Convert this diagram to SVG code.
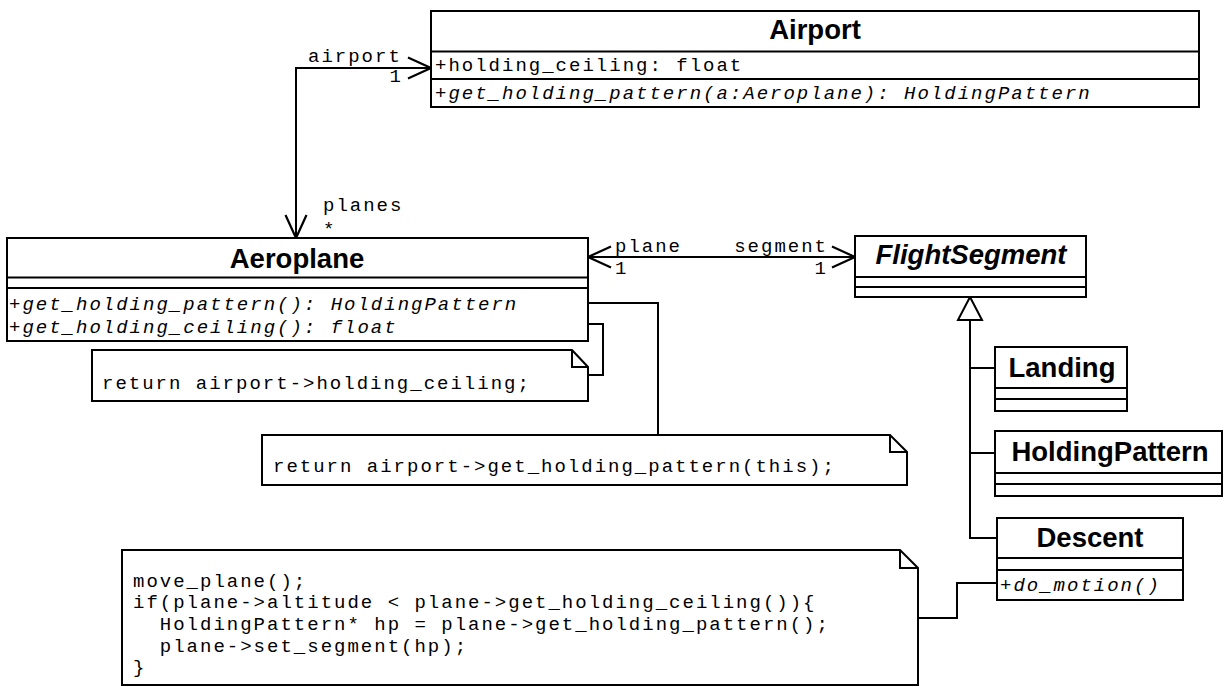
<svg xmlns="http://www.w3.org/2000/svg" width="1226" height="687" viewBox="0 0 1226 687">
<style>
.box{fill:#fff;stroke:#000;stroke-width:2}
.ln{fill:none;stroke:#000;stroke-width:2}
.title{font-family:"Liberation Sans",Arial,sans-serif;font-weight:bold;font-size:27.5px;text-anchor:middle;fill:#000}
.mono{font-family:"Liberation Mono","Courier New",monospace;font-size:19px;letter-spacing:2.0px;fill:#000}
.it{font-style:italic}
.end{text-anchor:end}
</style>
<defs>
<marker id="open" markerUnits="userSpaceOnUse" markerWidth="28" markerHeight="28" viewBox="0 0 28 28" refX="25" refY="12" orient="auto-start-reverse">
<path d="M2 1.5 L25 12 L2 22.5" fill="none" stroke="#000" stroke-width="2.2"/>
</marker>
</defs>
<rect width="1226" height="687" fill="#fff"/>

<g id="connectors">
<path class="ln" d="M431 68 H296 V238" marker-start="url(#open)" marker-end="url(#open)"/>
<path class="ln" d="M588 257 H855" marker-start="url(#open)" marker-end="url(#open)"/>
<path class="ln" d="M970 320 V538 H997 M970 368 H995 M970 453 H995"/>
<polygon points="970,297 958,320 982,320" fill="#fff" stroke="#000" stroke-width="2"/>
<path class="ln" d="M588 303 H658 V435"/>
<path class="ln" d="M588 324 H603 V375 H588"/>
<path class="ln" d="M918 618 H957 V583 H997"/>
<text class="mono" x="308" y="62">airport</text>
<text class="mono end" x="403" y="82">1</text>
<text class="mono" x="323" y="211">planes</text>
<text class="mono" x="323" y="235">*</text>
<text class="mono" x="615" y="252">plane</text>
<text class="mono" x="615" y="274">1</text>
<text class="mono end" x="828" y="252">segment</text>
<text class="mono end" x="828" y="274">1</text>
</g>

<g id="airport">
<rect class="box" x="431" y="11" width="768" height="96"/>
<path class="ln" d="M431 51.5 H1199 M431 79 H1199"/>
<text class="title" x="815" y="39">Airport</text>
<text class="mono" x="435" y="71">+holding_ceiling: float</text>
<text class="mono it" x="435" y="99">+get_holding_pattern(a:Aeroplane): HoldingPattern</text>
</g>

<g id="aeroplane">
<rect class="box" x="7" y="238" width="581" height="103"/>
<path class="ln" d="M7 277.5 H588 M7 288 H588"/>
<text class="title" x="297" y="268">Aeroplane</text>
<text class="mono it" x="9" y="310">+get_holding_pattern(): HoldingPattern</text>
<text class="mono it" x="9" y="333">+get_holding_ceiling(): float</text>
</g>

<g id="flightsegment">
<rect class="box" x="855" y="236" width="231" height="61"/>
<path class="ln" d="M855 277 H1086 M855 287 H1086"/>
<text class="title it" x="971" y="264" font-style="italic">FlightSegment</text>
</g>

<g id="landing">
<rect class="box" x="995" y="347" width="132" height="64"/>
<path class="ln" d="M995 388 H1127 M995 399 H1127"/>
<text class="title" x="1062" y="377">Landing</text>
</g>

<g id="holdingpattern">
<rect class="box" x="995" y="431" width="227" height="65"/>
<path class="ln" d="M995 473 H1222 M995 484 H1222"/>
<text class="title" x="1110" y="461">HoldingPattern</text>
</g>

<g id="descent">
<rect class="box" x="997" y="518" width="186" height="82"/>
<path class="ln" d="M997 558 H1183 M997 570 H1183"/>
<text class="title" x="1090" y="547">Descent</text>
<text class="mono it" x="1000" y="591">+do_motion()</text>
</g>

<g id="note-ceiling">
<path class="box" d="M92 350 H572 L588 367 V401 H92 Z"/>
<path class="ln" d="M572 350 V367 H588"/>
<text class="mono" x="102" y="389">return airport-&gt;holding_ceiling;</text>
</g>

<g id="note-pattern">
<path class="box" d="M262 435 H890 L907 452 V485 H262 Z"/>
<path class="ln" d="M890 435 V452 H907"/>
<text class="mono" x="273" y="472">return airport-&gt;get_holding_pattern(this);</text>
</g>

<g id="note-motion">
<path class="box" d="M122 550 H900 L918 568 V685 H122 Z"/>
<path class="ln" d="M900 550 V568 H918"/>
<text class="mono" xml:space="preserve"><tspan x="133" y="587">move_plane();</tspan><tspan x="133" y="608">if(plane-&gt;altitude &lt; plane-&gt;get_holding_ceiling()){</tspan><tspan x="133" y="630">  HoldingPattern* hp = plane-&gt;get_holding_pattern();</tspan><tspan x="133" y="652">  plane-&gt;set_segment(hp);</tspan><tspan x="133" y="673">}</tspan></text>
</g>
</svg>
